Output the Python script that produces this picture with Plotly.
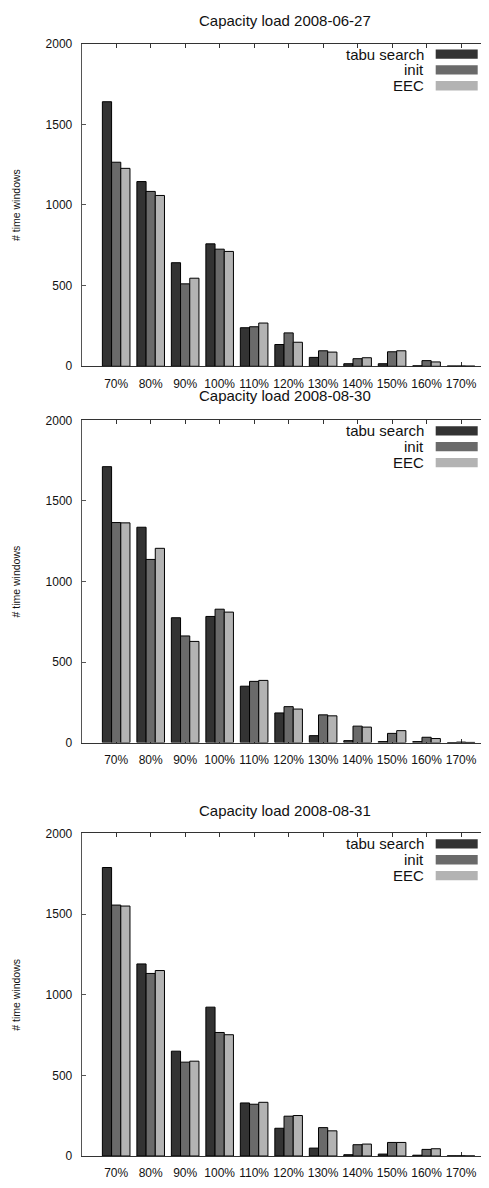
import plotly.graph_objects as go
from plotly.subplots import make_subplots

# category labels (capacity load)
categories = ['70%', '80%', '90%', '100%', '110%', '120%', '130%', '140%', '150%', '160%', '170%']
series_names = ['tabu search', 'init', 'EEC']
y_ticks = [0, 500, 1000, 1500, 2000]

titles = ['Capacity load 2008-06-27', 'Capacity load 2008-08-30', 'Capacity load 2008-08-31']

# 2008-06-27
tabu_0627 = [1640, 1145, 642, 759, 239, 135, 55, 16, 16, 3, 2]
init_0627 = [1265, 1084, 511, 726, 245, 207, 96, 47, 90, 35, 2]
eec_0627 = [1227, 1059, 546, 712, 268, 149, 88, 53, 96, 27, 1]

# 2008-08-30
tabu_0830 = [1713, 1337, 775, 783, 350, 184, 43, 12, 6, 6, 0]
init_0830 = [1366, 1137, 662, 828, 380, 223, 172, 102, 57, 33, 3]
eec_0830 = [1364, 1206, 628, 810, 386, 208, 166, 96, 74, 25, 1]

# 2008-08-31
tabu_0831 = [1789, 1191, 650, 923, 329, 172, 49, 8, 12, 5, 1]
init_0831 = [1556, 1132, 582, 766, 321, 247, 176, 70, 84, 41, 1]
eec_0831 = [1550, 1150, 588, 752, 333, 251, 156, 74, 84, 45, 0]

panels = [
    [tabu_0627, init_0627, eec_0627],
    [tabu_0830, init_0830, eec_0830],
    [tabu_0831, init_0831, eec_0831],
]

colors = {'tabu search': '#333333', 'init': '#6a6a6a', 'EEC': '#b3b3b3'}
font = 'Liberation Sans, Arial, sans-serif'
axis_color = '#333333'

PAD = 8  # default page margin around the plot div
W, H = 489 - PAD, 1188 - PAD
# plot areas in page pixels from the top: (top, bottom)
areas = [(37, 363.5), (418.3, 744.3), (836.3, 1162.7)]
title_shift = [23, 25, 23]
x_left = 81.7 - PAD

fig = make_subplots(rows=3, cols=1)

for i, vals in enumerate(panels):
    for name, v in zip(series_names, vals):
        fig.add_trace(go.Bar(x=categories, y=v, name=name, showlegend=False,
                             marker={'color': colors[name],
                                     'line': {'color': 'black', 'width': 1}}),
                      row=i + 1, col=1)

for i, (top, bottom) in enumerate(areas):
    top -= PAD
    bottom -= PAD
    k = '' if i == 0 else str(i + 1)
    fig.update_layout({
        'xaxis' + k: {
            'domain': [x_left / W, 1],
            'type': 'category',
            'range': [-1, 10.81],
            'showline': True, 'linecolor': axis_color, 'linewidth': 1,
            'mirror': 'ticks', 'ticks': 'inside', 'ticklen': 4,
            'tickcolor': axis_color, 'showgrid': False,
            'layer': 'below traces',
            'tickfont': {'size': 12, 'color': '#111111', 'family': font},
            'ticklabelstandoff': 6,
        },
        'yaxis' + k: {
            'domain': [(H - bottom) / H, (H - top) / H],
            'range': [0, 2000], 'tickvals': y_ticks,
            'showline': True, 'linecolor': '#555555', 'linewidth': 1,
            'ticks': 'inside', 'ticklen': 4, 'tickcolor': '#555555',
            'showgrid': False, 'zeroline': False,
            'layer': 'below traces',
            'tickfont': {'size': 12, 'color': '#111111', 'family': font},
            'ticklabelstandoff': 6,
        },
    })

    xd = 'x' + k + ' domain'
    yd = 'y' + k + ' domain'
    ph = bottom - top
    pw = W - x_left
    # title
    fig.add_annotation(text=titles[i], xref=xd, yref=yd, x=0.5, y=1,
                       xanchor='center', yanchor='middle', yshift=title_shift[i],
                       showarrow=False, font={'size': 15, 'color': '#111111', 'family': font})
    # y label
    fig.add_annotation(text='# time windows', xref='paper', yref=yd, x=(16 - PAD) / W, y=0.5,
                       textangle=-90, xanchor='center', yanchor='middle',
                       showarrow=False, font={'size': 10.5, 'color': '#111111', 'family': font})
    # legend, text on the left and sample box on the right
    for j, name in enumerate(series_names):
        yc = 1 - (10.6 + 16 * j) / ph
        hh = 4.7 / ph
        fig.add_shape(type='rect', xref=xd, yref=yd,
                      x0=(435.7 - PAD - x_left) / pw, x1=(477.7 - PAD - x_left) / pw,
                      y0=yc - hh, y1=yc + hh,
                      fillcolor=colors[name], line={'width': 0})
        fig.add_annotation(text=name, xref=xd, yref=yd,
                           x=(426 - PAD - x_left) / pw, y=yc,
                           xanchor='right', yanchor='middle', showarrow=False,
                           font={'size': 15, 'color': '#111111', 'family': font})

fig.update_layout(
    width=W, height=H,
    margin={'l': 0, 'r': 0, 't': 0, 'b': 0},
    barmode='group', bargap=0.2, bargroupgap=0,
    plot_bgcolor='white', paper_bgcolor='white',
    font={'family': font, 'color': '#111111'},
)

fig.write_html("out.html")
